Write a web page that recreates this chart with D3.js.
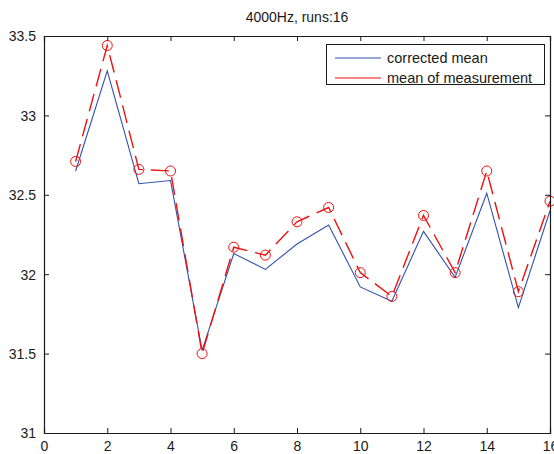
<!DOCTYPE html>
<html><head><meta charset="utf-8">
<script src="https://cdn.jsdelivr.net/npm/d3@7"></script>
<style>body{margin:0;background:#fff}svg{display:block}text{font-family:"Liberation Sans",Arial,sans-serif;fill:#1a1a1a}</style>
</head><body><svg id="c" width="554" height="454"></svg>
<script>
const title = "4000Hz, runs:16";
const runs = [1,2,3,4,5,6,7,8,9,10,11,12,13,14,15,16];
const corrected = [32.65,33.28,32.57,32.59,31.52,32.13,32.03,32.19,32.31,31.92,31.83,32.27,31.98,32.51,31.79,32.40];
const measured = [32.71,33.44,32.66,32.65,31.50,32.17,32.12,32.33,32.42,32.01,31.86,32.37,32.01,32.65,31.89,32.46];
const xTicks = [0,2,4,6,8,10,12,14,16];
const yTicks = [31,31.5,32,32.5,33,33.5];
const seriesNames = ["corrected mean","mean of measurement"];

const L=44,R=550,T=36,B=433;
const svg=d3.select("#c");
const x=d3.scaleLinear().domain([0,16]).range([L,R]);
const y=d3.scaleLinear().domain([31,33.5]).range([B,T]);
const tl=5;

svg.append("text").attr("x",(L+R)/2).attr("y",22).attr("text-anchor","middle").style("font-size","14px").text(title);

const clip=svg.append("defs").append("clipPath").attr("id","pc");
clip.append("rect").attr("x",L).attr("y",T).attr("width",R-L).attr("height",B-T);

const g=svg.append("g").attr("clip-path","url(#pc)");
const line=d3.line().x((d,i)=>x(runs[i])).y(d=>y(d));
g.append("path").datum(corrected).attr("d",line).attr("fill","none").attr("stroke","#3050b0").attr("stroke-width",1.1);
g.append("path").datum(measured).attr("d",line).attr("fill","none").attr("stroke","#f01010").attr("stroke-width",1.4).attr("stroke-dasharray","18,8");
svg.append("g").selectAll("circle").data(measured).join("circle")
 .attr("cx",(d,i)=>x(runs[i])).attr("cy",d=>y(d)).attr("r",5)
 .attr("fill","none").attr("stroke","#f01010").attr("stroke-width",1);

// axes
const ax=svg.append("g").attr("transform",`translate(0,${B})`).call(d3.axisBottom(x).tickValues(xTicks).tickSize(-tl).tickPadding(8).tickFormat(d3.format("d")));
const axT=svg.append("g").attr("transform",`translate(0,${T})`).call(d3.axisTop(x).tickValues(xTicks).tickSize(-tl).tickFormat(""));
const ay=svg.append("g").attr("transform",`translate(${L},0)`).call(d3.axisLeft(y).tickValues(yTicks).tickSize(-tl).tickPadding(8).tickFormat(d=>String(d)));
const ayR=svg.append("g").attr("transform",`translate(${R},0)`).call(d3.axisRight(y).tickValues(yTicks).tickSize(-tl).tickFormat(""));
[ax,axT,ay,ayR].forEach(a=>{a.select(".domain").attr("stroke","#1a1a1a").attr("stroke-width",1.2);a.selectAll(".tick line").attr("stroke","#1a1a1a");a.selectAll("text").style("font-size","14px").style("font-family","Liberation Sans, Arial, sans-serif").attr("fill","#1a1a1a");});
ay.selectAll("text").attr("dy","0.35em");

// legend
const lg=svg.append("g");
lg.append("rect").attr("x",326.5).attr("y",44.5).attr("width",218).attr("height",40).attr("fill","#fff").attr("stroke","#1a1a1a").attr("stroke-width",1);
const cols=["#3050b0","#f01010"];
seriesNames.forEach((n,i)=>{
  const yy=58+i*20;
  lg.append("line").attr("x1",335).attr("x2",381).attr("y1",yy).attr("y2",yy).attr("stroke",cols[i]).attr("stroke-width",1.1);
  lg.append("text").attr("x",387).attr("y",yy).attr("dy","0.35em").style("font-size","14.5px").text(n);
});
</script></body></html>
